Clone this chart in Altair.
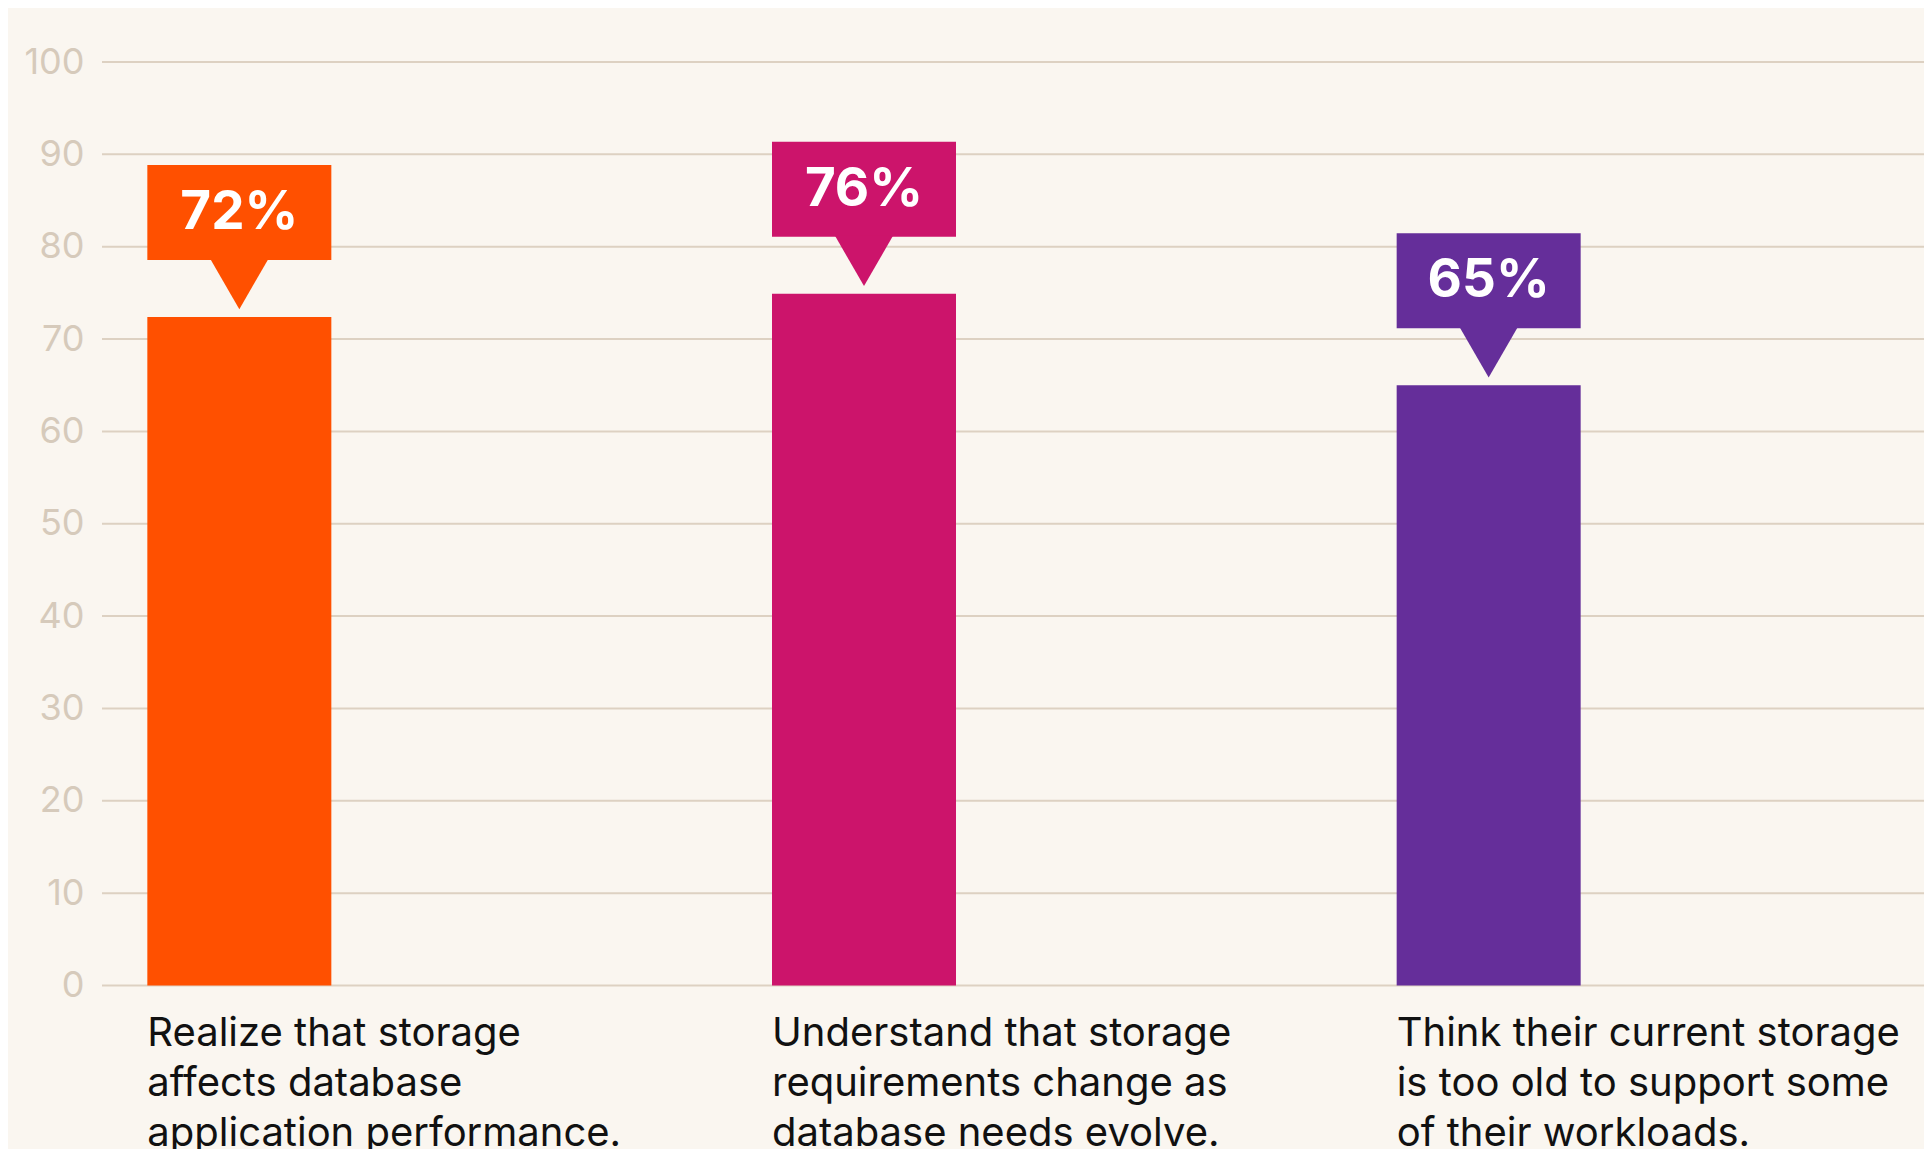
import altair as alt
import pandas as pd

# ---- data ----
category_lines = [
    ["Realize that storage", "affects database", "application performance."],
    ["Understand that storage", "requirements change as", "database needs evolve."],
    ["Think their current storage", "is too old to support some", "of their workloads."],
]
bar_values = [72.4, 74.9, 65.0]
callout_labels = ["72%", "76%", "65%"]
bar_colors = ["#FF5000", "#CC146B", "#652E9A"]
y_ticks = [0, 10, 20, 30, 40, 50, 60, 70, 80, 90, 100]

PLOT_W = 1822
PLOT_H = 923.5

categories = ["|".join(lines) for lines in category_lines]
df = pd.DataFrame({
    "category": categories,
    "value": bar_values,
    "label": callout_labels,
    "color": bar_colors,
})
grid_df = pd.DataFrame({"tick": y_ticks})

y_scale = alt.Scale(domain=[0, 100], nice=False)
y_axis = alt.Axis(
    title=None,
    values=y_ticks,
    grid=False,
    ticks=False,
    domain=False,
    labelPadding=18,
    labelFontSize=36,
    labelFont="Inter",
    labelColor="#D6CABB",
)

x = alt.X(
    "category:N",
    sort=categories,
    scale=alt.Scale(range=[-175, 1699], paddingInner=0, paddingOuter=0),
    axis=alt.Axis(
        title=None,
        labelExpr="split(datum.label, '|')",
        labelAlign="left",
        labelBaseline="top",
        labelOffset=-92,
        labelPadding=28,
        labelFontSize=40,
        labelFont="Inter",
        labelColor="#111111",
        labelLineHeight=50,
        labelLimit=900,
        labelOverlap=False,
        labelAngle=0,
        ticks=False,
        domain=False,
        grid=False,
    ),
)
y = alt.Y("value:Q", scale=y_scale, axis=y_axis)
color = alt.Color("color:N", scale=None, legend=None)

gridlines = alt.Chart(grid_df).mark_rule(color="#DDD1C2", strokeWidth=2).encode(
    y=alt.Y("tick:Q", scale=y_scale, axis=y_axis),
    x=alt.value(0),
    x2=alt.value(PLOT_W),
)

base = alt.Chart(df)

bars = base.mark_bar(size=184).encode(x=x, y=y, color=color)

boxes = base.mark_bar(size=184, yOffset=-152, y2Offset=-57).encode(
    x=x, y=y, y2=alt.Y2("value:Q"), color=color
)

pointers = base.mark_point(
    shape="triangle-down", size=3400, filled=True, opacity=1, strokeWidth=0, yOffset=-33
).encode(x=x, y=y, color=color)

texts = base.mark_text(
    font="Inter", fontSize=53, fontWeight="bold", color="white",
    align="center", baseline="middle", dy=-104,
).encode(x=x, y=y, text="label:N")

chart = alt.layer(gridlines, bars, boxes, pointers, texts).properties(
    width=PLOT_W,
    height=PLOT_H,
    autosize=alt.AutoSizeParams(type="none"),
    padding={"left": 94, "top": 54, "right": 0, "bottom": 163},
    background="#FAF6F0",
).configure_view(stroke=None)

chart.save("out.html", embed_options={"renderer": "svg", "actions": False})
